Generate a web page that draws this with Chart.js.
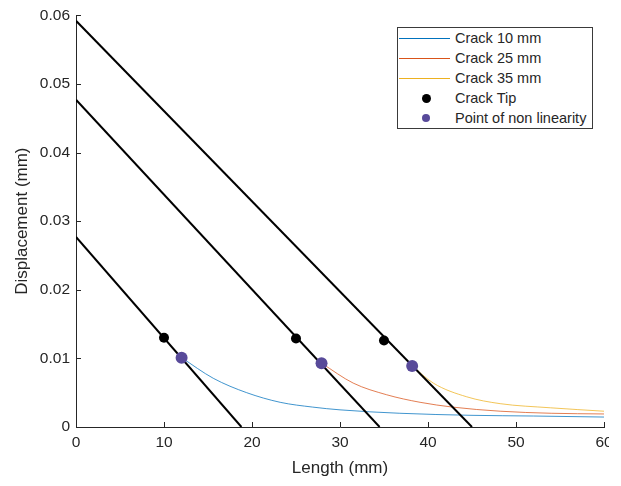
<!DOCTYPE html>
<html>
<head>
<meta charset="utf-8">
<title>Displacement vs Length</title>
<script src="https://cdn.jsdelivr.net/npm/chart.js@4.4.0/dist/chart.umd.min.js"></script>
<style>
  html, body { margin: 0; padding: 0; background: #fff; }
  #wrap { position: relative; width: 621px; height: 486px; }
  #legend {
    position: absolute; left: 397px; top: 27px; width: 194px; height: 100px;
    border: 1px solid #3a3a3a; background: #fff;
    font-family: "Liberation Sans", Arial, sans-serif; font-size: 14.5px; color: #262626;
  }
  .item { position: absolute; left: 0; width: 194px; height: 20px; }
  .sample { position: absolute; left: 0; top: 0; width: 54px; height: 20px; }
  .label { position: absolute; left: 57px; top: 0; line-height: 20px; white-space: nowrap; }
  #edge { position: absolute; left: 609px; top: 430px; width: 12px; height: 30px; background: #fff; }
</style>
</head>
<body>
<div id="wrap">
  <canvas id="c" width="621" height="486"></canvas>
  <div id="legend"></div>
  <div id="edge"></div>
</div>
<script>
// Axis ticks
const xTickValues = [0, 10, 20, 30, 40, 50, 60];
const xTickLabels = ['0', '10', '20', '30', '40', '50', '60'];
const yTickValues = [0, 0.01, 0.02, 0.03, 0.04, 0.05, 0.06];
const yTickLabels = ['0', '0.01', '0.02', '0.03', '0.04', '0.05', '0.06'];

// Displacement profiles past the point of non linearity (mm)
const crack10X = [12.0, 15.6, 19.4, 23.2, 26.9, 30.0, 36.8, 45.0, 52.0, 60.0];
const crack10Y = [0.0101, 0.0071, 0.0050, 0.0036, 0.0029, 0.0025, 0.0020, 0.0017, 0.0016, 0.00145];
const crack25X = [27.9, 31.5, 35.3, 39.1, 42.8, 48.2, 54.0, 60.0];
const crack25Y = [0.0093, 0.0064, 0.0047, 0.0036, 0.0029, 0.0023, 0.0020, 0.0019];
const crack35X = [38.2, 40.6, 44.4, 48.2, 53.9, 60.0];
const crack35Y = [0.0089, 0.0064, 0.0044, 0.0034, 0.0028, 0.0023];

// Linear fits: start at x = 0, reach zero displacement at the end length
const fitStartY = [0.0277, 0.0477, 0.0592];
const fitEndX = [18.8, 34.5, 45.0];

// Marked points
const tipX = [10, 25, 35];
const tipY = [0.0130, 0.0129, 0.0126];
const nonLinX = [12.0, 27.9, 38.2];
const nonLinY = [0.0101, 0.0093, 0.0089];

const seriesNames = ['Crack 10 mm', 'Crack 25 mm', 'Crack 35 mm', 'Crack Tip', 'Point of non linearity'];
const seriesColors = ['#0072BD', '#D95319', '#EDB120', '#000000', '#584A9A'];

const pts = (xs, ys) => xs.map((x, i) => ({ x, y: ys[i] }));

const datasets = [];
datasets.push({
  label: seriesNames[3], data: pts(tipX, tipY), showLine: false,
  pointRadius: 5, pointHoverRadius: 5, pointBorderWidth: 0,
  pointBackgroundColor: seriesColors[3], order: 0
});
datasets.push({
  label: seriesNames[4], data: pts(nonLinX, nonLinY), showLine: false,
  pointRadius: 6, pointHoverRadius: 6, pointBorderWidth: 0,
  pointBackgroundColor: seriesColors[4], order: 0
});
fitStartY.forEach((y0, i) => {
  datasets.push({
    label: 'fit ' + (i + 1), data: [{ x: 0, y: y0 }, { x: fitEndX[i], y: 0 }],
    showLine: true, borderColor: '#000', borderWidth: 2, pointRadius: 0, order: 1
  });
});
[[crack10X, crack10Y], [crack25X, crack25Y], [crack35X, crack35Y]].forEach(([xs, ys], i) => {
  datasets.push({
    label: seriesNames[i], data: pts(xs, ys), showLine: true,
    borderColor: seriesColors[i], borderWidth: 0.75, pointRadius: 0,
    cubicInterpolationMode: 'monotone', order: 2
  });
});

// Small inward tick marks on both axes
const innerTicks = {
  id: 'innerTicks',
  beforeDatasetsDraw(chart) {
    const { ctx, chartArea: a, scales: { x, y } } = chart;
    ctx.save();
    ctx.strokeStyle = '#262626';
    ctx.lineWidth = 1;
    ctx.beginPath();
    xTickValues.forEach(v => {
      const px = Math.round(x.getPixelForValue(v)) + 0.5;
      ctx.moveTo(px, a.bottom); ctx.lineTo(px, a.bottom - 5);
    });
    yTickValues.forEach(v => {
      const py = Math.round(y.getPixelForValue(v)) + 0.5;
      ctx.moveTo(a.left, py); ctx.lineTo(a.left + 5, py);
    });
    ctx.stroke();
    ctx.restore();
  }
};

const font = 'Liberation Sans, Arial, sans-serif';

new Chart(document.getElementById('c'), {
  type: 'scatter',
  data: { datasets },
  options: {
    responsive: false,
    animation: false,
    devicePixelRatio: 1,
    layout: { padding: { top: 15, right: 17, bottom: 0, left: 0 } },
    plugins: { legend: { display: false }, tooltip: { enabled: false } },
    scales: {
      x: {
        type: 'linear', min: 0, max: 60,
        afterFit: s => { s.height = 59; },
        afterBuildTicks: s => { s.ticks = xTickValues.map(v => ({ value: v })); },
        grid: { display: true, drawOnChartArea: false, drawTicks: false },
        border: { display: true, color: '#262626', width: 1 },
        ticks: {
          padding: 6, color: '#262626', font: { family: font, size: 15.5 },
          maxRotation: 0, autoSkip: false,
          callback: (v, i) => xTickLabels[i]
        },
        title: {
          display: true, text: 'Length (mm)', color: '#262626',
          font: { family: font, size: 17 }, padding: { top: 0, bottom: 7 }
        }
      },
      y: {
        type: 'linear', min: 0, max: 0.06,
        afterFit: s => { s.width = 76; },
        afterBuildTicks: s => { s.ticks = yTickValues.map(v => ({ value: v })); },
        grid: { display: true, drawOnChartArea: false, drawTicks: false },
        border: { display: true, color: '#262626', width: 1 },
        ticks: {
          padding: 6, color: '#262626', font: { family: font, size: 15.5 },
          autoSkip: false,
          callback: (v, i) => yTickLabels[i]
        },
        title: {
          display: true, text: 'Displacement (mm)', color: '#262626',
          font: { family: font, size: 17 }, padding: { top: 12, bottom: 0 }
        }
      }
    }
  },
  plugins: [innerTicks]
});

// Boxed legend inside the plot area
const legend = document.getElementById('legend');
seriesNames.forEach((name, i) => {
  const item = document.createElement('div');
  item.className = 'item';
  item.style.top = (i * 20) + 'px';
  const sample = document.createElement('div');
  sample.className = 'sample';
  const mark = document.createElement('div');
  mark.style.position = 'absolute';
  if (i < 3) {
    mark.style.left = '1px'; mark.style.top = '10px'; mark.style.width = '51px';
    mark.style.borderTop = '1px solid ' + seriesColors[i];
  } else {
    const d = i === 3 ? 9 : 8;
    mark.style.width = d + 'px'; mark.style.height = d + 'px';
    mark.style.left = (28 - d / 2) + 'px'; mark.style.top = (10 - d / 2) + 'px';
    mark.style.borderRadius = '50%'; mark.style.background = seriesColors[i];
  }
  sample.appendChild(mark);
  const label = document.createElement('div');
  label.className = 'label';
  label.textContent = name;
  item.appendChild(sample);
  item.appendChild(label);
  legend.appendChild(item);
});
</script>
</body>
</html>
